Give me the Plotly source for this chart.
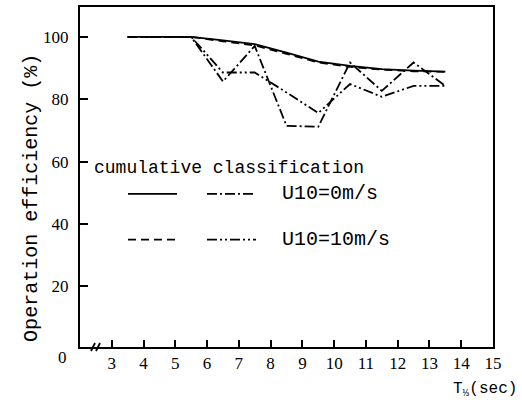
import plotly.graph_objects as go

# ---- data ----
ts = [3.5, 4.5, 5.5, 6.5, 7.5, 8.5, 9.5, 10.5, 11.5, 12.5, 13.5]
cum_u0 = [100, 100, 100, 98.9, 97.7, 95.0, 92.1, 90.7, 89.7, 89.2, 88.9]
cum_u10 = [100, 100, 100, 98.6, 97.3, 94.6, 91.8, 90.4, 89.5, 89.0, 88.8]
ind_u0 = [100, 100, 100, 85.7, 97.1, 71.5, 71.2, 91.8, 82.7, 91.8, 84.3]
ind_u10 = [100, 100, 100, 88.6, 88.6, 82.2, 75.6, 84.9, 80.8, 84.3, 84.3]
x_ticks = [3, 4, 5, 6, 7, 8, 9, 10, 11, 12, 13, 14, 15]
y_ticks = [20, 40, 60, 80, 100]

W, H = 522, 407
L, R, T, B = 80, 29, 5, 60
PW, PH = W - L - R, H - T - B


def px(x):
    return (x - L) / PW


def py(y):
    return (H - B - y) / PH


fig = go.Figure()
styles = [
    (cum_u0, "solid"),
    (cum_u10, "8px,5px"),
    (ind_u0, "10px,3px,2px,3px"),
    (ind_u10, "10px,3px,2px,3px,2px,3px"),
]
for vals, dash in styles:
    fig.add_trace(go.Scatter(x=ts, y=vals, mode="lines",
                             line=dict(color="black", width=1.8, dash=dash),
                             showlegend=False, hoverinfo="skip"))

fig.update_xaxes(range=[2, 15], tickvals=x_ticks, ticks="inside", ticklen=7,
                 tickwidth=2, tickcolor="black", showline=True, mirror=True,
                 linecolor="black", linewidth=2, showgrid=False, zeroline=False,
                 tickfont=dict(family="Liberation Serif", size=17, color="black"))
fig.update_yaxes(range=[0.56, 109.6], tickvals=y_ticks, ticks="inside", ticklen=8,
                 tickwidth=2, tickcolor="black", showline=True, mirror=True,
                 linecolor="black", linewidth=2, showgrid=False, zeroline=False,
                 ticklabelstandoff=6,
                 tickfont=dict(family="Liberation Serif", size=17, color="black"))


def note(text, x, y, size, family="Liberation Mono", xanchor="center", angle=0):
    return dict(text=text, x=px(x), y=py(y), xref="paper", yref="paper",
                xanchor=xanchor, yanchor="middle", textangle=angle,
                showarrow=False, font=dict(family=family, size=size, color="black"))


ann = [
    note("Operation efficiency (%)", 32, 197, 20, angle=-90),
    note("0", 62, 358, 17, family="Liberation Serif"),
    note("T<sub>⅓</sub>(sec)", 451, 390, 16, xanchor="left"),
    note("cumulative classification", 92, 167, 18, xanchor="left"),
    note("U10=0m/s", 280, 193, 20, xanchor="left"),
    note("U10=10m/s", 280, 239, 20, xanchor="left"),
]

shapes = []
legend_rows = [(193, "solid", "10px,3px,2px,3px"),
               (239, "8px,5px", "10px,3px,2px,3px,2px,3px")]
for yy, d1, d2 in legend_rows:
    shapes.append(dict(type="line", xref="paper", yref="paper",
                       x0=px(128), x1=px(177), y0=py(yy), y1=py(yy),
                       line=dict(color="black", width=1.8, dash=d1)))
    shapes.append(dict(type="line", xref="paper", yref="paper",
                       x0=px(207), x1=px(256), y0=py(yy), y1=py(yy),
                       line=dict(color="black", width=1.8, dash=d2)))
# axis break mark
for x0 in (91, 96):
    shapes.append(dict(type="line", xref="paper", yref="paper",
                       x0=px(x0), x1=px(x0 + 4), y0=py(351), y1=py(343),
                       line=dict(color="black", width=1.8)))

fig.update_layout(width=W, height=H, margin=dict(l=L, r=R, t=T, b=B),
                  paper_bgcolor="white", plot_bgcolor="white",
                  annotations=ann, shapes=shapes, showlegend=False)
fig.write_html("out.html", config={"displayModeBar": False},
               post_script="document.body.style.margin='0';document.body.style.overflow='hidden';")
